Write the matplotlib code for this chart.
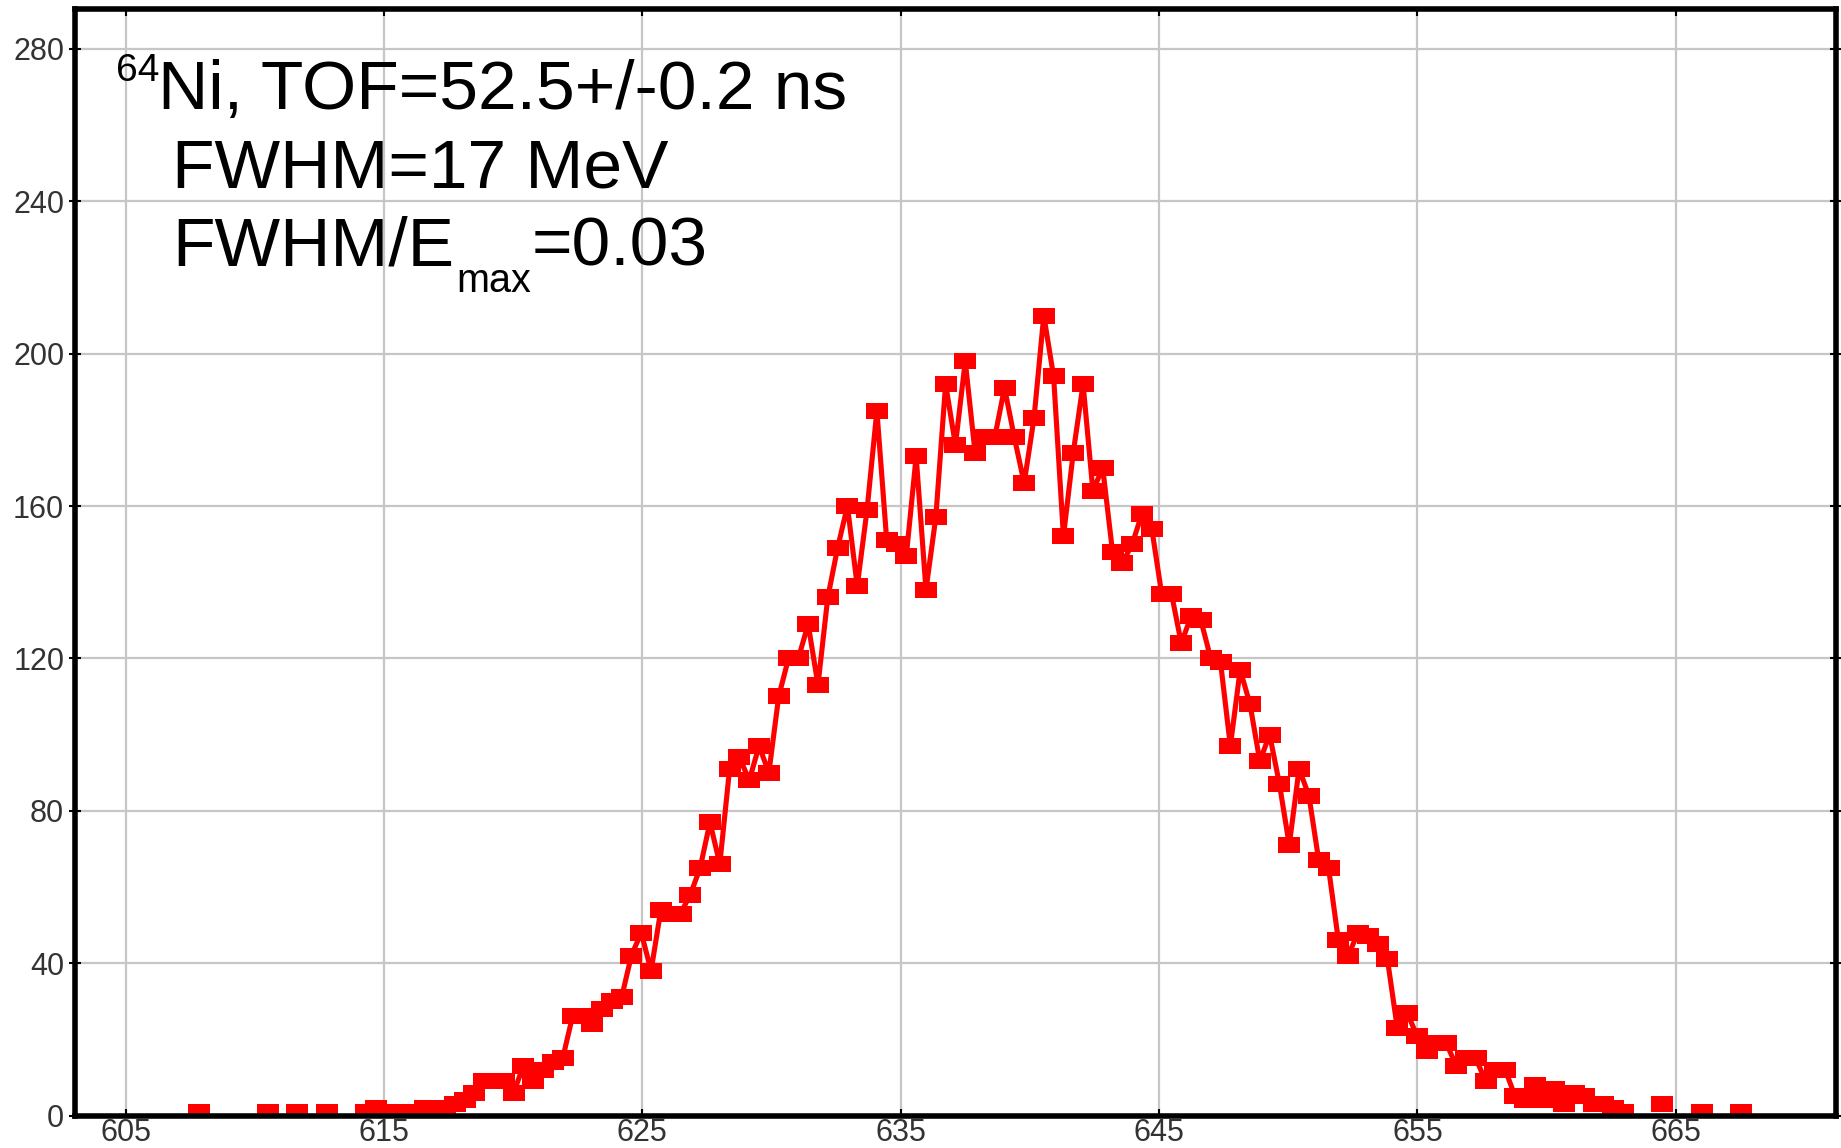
import numpy as np
import matplotlib
matplotlib.use("Agg")
import matplotlib.pyplot as plt

plt.rcParams['font.family'] = ['Liberation Sans', 'DejaVu Sans']

# energy (MeV) of each plotted bin and its counts
energy = [607.85, 610.51, 611.65, 612.79,
          614.31, 614.69, 615.07, 615.45, 615.83, 616.21, 616.59, 616.98, 617.36, 617.74,
          618.12, 618.50, 618.88, 619.26, 619.64, 620.02, 620.40, 620.78, 621.16, 621.54,
          621.92, 622.30, 622.68, 623.06, 623.44, 623.82, 624.20, 624.58, 624.96, 625.34,
          625.72, 626.10, 626.48, 626.86, 627.24, 627.62, 628.00, 628.38, 628.76, 629.14,
          629.52, 629.90, 630.28, 630.66, 631.04, 631.42, 631.80, 632.18, 632.56, 632.94,
          633.32, 633.70, 634.08, 634.46, 634.84, 635.22, 635.60, 635.98, 636.36, 636.74,
          637.12, 637.50, 637.88, 638.26, 638.64, 639.02, 639.40, 639.78, 640.16, 640.54,
          640.92, 641.30, 641.68, 642.06, 642.44, 642.82, 643.20, 643.58, 643.96, 644.34,
          644.72, 645.10, 645.48, 645.86, 646.24, 646.62, 647.00, 647.38, 647.76, 648.14,
          648.52, 648.90, 649.28, 649.66, 650.04, 650.42, 650.80, 651.18, 651.56, 651.94,
          652.32, 652.70, 653.08, 653.46, 653.84, 654.22, 654.60, 654.98, 655.36, 655.74,
          656.12, 656.50, 656.88, 657.26, 657.64, 658.02, 658.40, 658.78, 659.16, 659.54,
          659.92, 660.30, 660.68, 661.06, 661.44, 661.82, 662.20, 662.58, 662.96,
          664.48, 666.00, 667.52]

counts = [1, 1, 1, 1,
          1, 2, 1, 1, 1, 1, 2, 2, 2, 3,
          4, 6, 9, 9, 9, 6, 13, 9, 12, 14,
          15, 26, 26, 24, 28, 30, 31, 42, 48, 38,
          54, 53, 53, 58, 65, 77, 66, 91, 94, 88,
          97, 90, 110, 120, 120, 129, 113, 136, 149, 160,
          139, 159, 185, 151, 150, 147, 173, 138, 157, 192,
          176, 198, 174, 178, 178, 191, 178, 166, 183, 210,
          194, 152, 174, 192, 164, 170, 148, 145, 150, 158,
          154, 137, 137, 124, 131, 130, 120, 119, 97, 117,
          108, 93, 100, 87, 71, 91, 84, 67, 65, 46,
          42, 48, 47, 45, 41, 23, 27, 21, 17, 19,
          19, 13, 15, 15, 9, 12, 12, 5, 4, 8,
          4, 7, 3, 6, 5, 3, 3, 2, 1,
          3, 1, 1]

xticks = [605, 615, 625, 635, 645, 655, 665]
yticks = [0, 40, 80, 120, 160, 200, 240, 280]

W, H = 1841, 1148

# empty bins are not drawn: break the line where bins are missing
xs, ys = [], []
for i in range(len(energy)):
    if i > 0 and energy[i] - energy[i - 1] > 0.5:
        xs.append(np.nan)
        ys.append(np.nan)
    xs.append(energy[i])
    ys.append(counts[i])

fig = plt.figure(figsize=(W / 100, H / 100), dpi=100)
ax = fig.add_axes([74.6 / W, 32.5 / H, (1836 - 74.6) / W, (1115.5 - 8.5) / H])

rect = [(-1, -0.69), (1, -0.69), (1, 0.69), (-1, 0.69), (-1, -0.69)]
ax.plot(xs, ys, color='#ff0000', lw=3.7, marker=rect, ms=16,
        mec='#ff0000', mew=0, zorder=2)

ax.set_xlim(603.03, 671.2)
ax.set_ylim(0, 290.6)
ax.set_xticks(xticks)
ax.set_yticks(yticks)
ax.grid(True, color='#c6c6c6', lw=1.6)
ax.set_axisbelow(True)

for s in ax.spines.values():
    s.set_linewidth(4)
    s.set_color('black')

ax.tick_params(axis='x', direction='in', length=5, width=1.5, top=True,
               labelsize=22, labelcolor='#333333', pad=2)
ax.tick_params(axis='y', direction='inout', length=9, width=1.5, right=True,
               labelsize=22, labelcolor='#333333', pad=3)

def ftext(px, py, s, size):
    fig.text(px / W, 1 - py / H, s, fontsize=size, ha='left', va='baseline',
             color='black')

ftext(116, 81, '64', 28)
ftext(158, 109, 'Ni, TOF=52.5+/-0.2 ns', 50)
ftext(172, 187, 'FWHM=17 MeV', 50)
ftext(172, 265, 'FWHM/E', 50)
ftext(456, 292, 'max', 28.5)
ftext(532, 265, '=0.03', 50)

fig.savefig('out.png', dpi=100)
